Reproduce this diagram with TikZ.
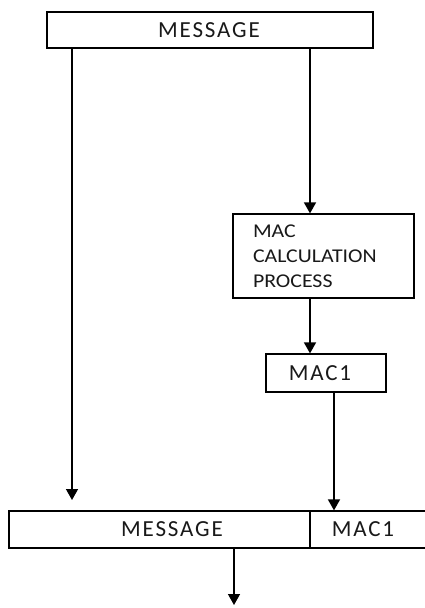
\documentclass[tikz,border=0pt]{standalone}
\usepackage{fontspec}
\setmainfont{Carlito}
\newfontfamily\widefont[LetterSpace=8]{Carlito}
\newfontfamily\procfont[FakeStretch=1.12]{Carlito}
\usetikzlibrary{arrows.meta,calc}
\begin{document}
\begin{tikzpicture}[x=1pt,y=-1pt,
  box/.style={draw=black,line width=1.2pt,inner sep=0pt,fill=white},
  lbl/.style={font=\widefont\fontsize{23}{26}\selectfont,text=black!90,inner sep=0pt},
  flow/.style={line width=1.5pt,-{Triangle[width=12pt,length=11pt]}}]
  \useasboundingbox (0,0) rectangle (425,608);

  % input message
  \node[box,minimum width=326pt,minimum height=36pt] (top) at (210,30) {};
  \node[lbl] (toptext) at (209,30) {MESSAGE};

  % MAC calculation block
  \node[box,minimum width=181pt,minimum height=84pt,text width=141pt,
        inner xsep=20pt,align=left,
        font=\procfont\fontsize{19.5}{25}\selectfont,text=black!90] (calc) at (323.5,256)
        {MAC\\CALCULATION\\PROCESS};

  % computed MAC
  \node[box,minimum width=120pt,minimum height=38pt] (mac) at (326,373) {};
  \node[lbl] (mactext) at (320,373) {MAC1};

  % transmitted message with appended MAC
  \node[box,minimum width=301pt,minimum height=37pt] (msg) at (159.5,529.5) {};
  \node[lbl] (msgtext) at (172,529.5) {MESSAGE};
  \node[box,minimum width=118pt,minimum height=37pt] (tag) at (369,529.5) {};
  \node[lbl] (tagtext) at (363,529.5) {MAC1};

  % connector columns and free ends
  \coordinate (colL) at (72,0);
  \coordinate (colA) at (310,0);
  \coordinate (colB) at (334,0);
  \coordinate (colC) at (234,0);
  \coordinate (leftend) at (72,500);
  \coordinate (outend) at (234,605);

  \draw[flow] (top.south -| colL) -- (leftend);
  \draw[flow] (top.south -| colA) -- (calc.north -| colA);
  \draw[flow] (calc.south -| colA) -- (mac.north -| colA);
  \draw[flow] (mac.south -| colB) -- (tag.north -| colB);
  \draw[flow] (msg.south -| colC) -- (outend);
\end{tikzpicture}
\end{document}
